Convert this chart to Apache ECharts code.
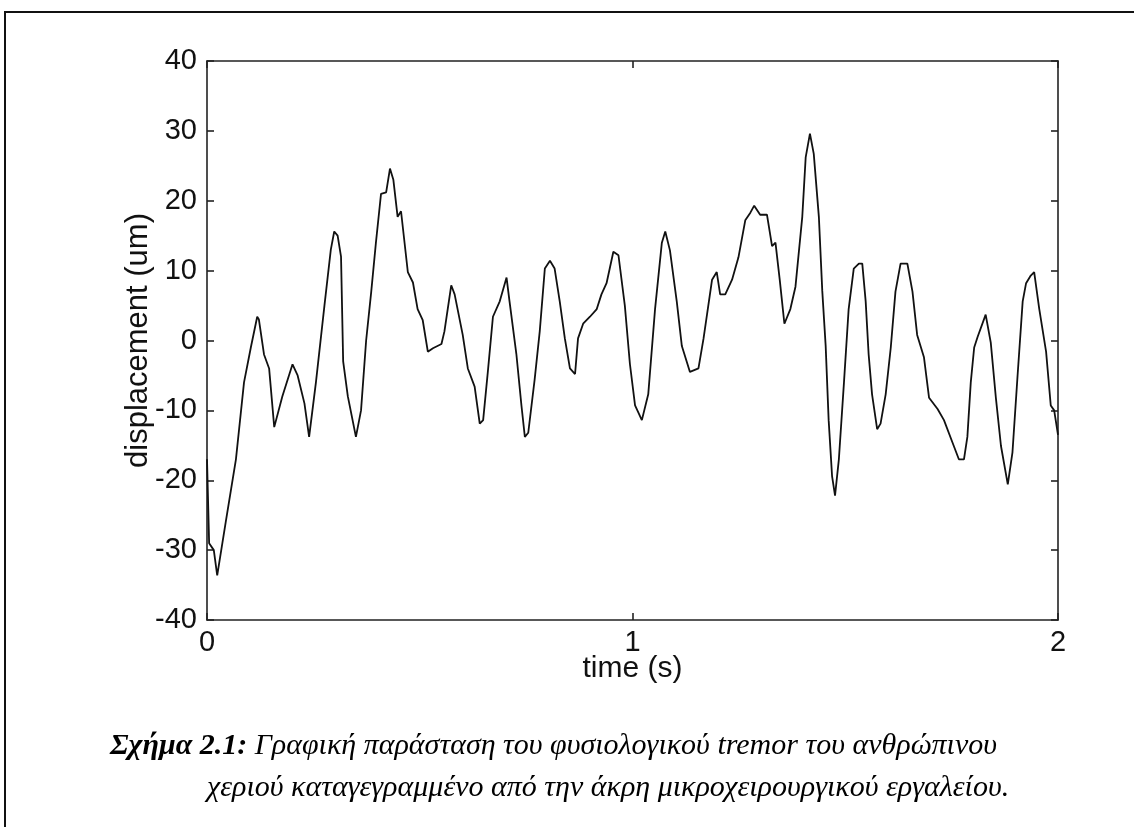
<!DOCTYPE html>
<html><head><meta charset="utf-8">
<script src="https://cdn.jsdelivr.net/npm/echarts@6/dist/echarts.min.js"></script>
<style>html,body{margin:0;padding:0;background:#fff}#c{width:1134px;height:827px}</style>
</head><body><div id="c"></div>
<script>
// time in seconds
const timeS = [0,0.005,0.016,0.024,0.044,0.068,0.087,0.103,0.118,0.122,0.134,0.146,0.158,0.177,0.201,0.213,0.229,0.240,0.256,0.276,0.291,0.299,0.307,0.315,0.320,0.331,0.350,0.362,0.374,0.386,0.397,0.409,0.421,0.430,0.438,0.448,0.456,0.472,0.484,0.495,0.507,0.519,0.531,0.551,0.558,0.574,0.582,0.601,0.613,0.629,0.641,0.649,0.660,0.672,0.688,0.704,0.711,0.727,0.739,0.747,0.755,0.770,0.782,0.794,0.806,0.817,0.829,0.841,0.853,0.865,0.872,0.884,0.900,0.916,0.927,0.939,0.955,0.967,0.982,0.994,1.006,1.022,1.037,1.053,1.069,1.077,1.088,1.104,1.116,1.135,1.155,1.167,1.187,1.198,1.206,1.218,1.234,1.249,1.265,1.277,1.286,1.300,1.316,1.328,1.336,1.346,1.357,1.371,1.383,1.399,1.407,1.417,1.426,1.438,1.446,1.454,1.461,1.469,1.476,1.485,1.497,1.508,1.520,1.532,1.540,1.548,1.555,1.563,1.575,1.583,1.595,1.607,1.618,1.630,1.646,1.658,1.669,1.685,1.697,1.717,1.732,1.752,1.767,1.779,1.787,1.795,1.803,1.811,1.830,1.842,1.854,1.866,1.882,1.893,1.905,1.917,1.925,1.936,1.944,1.956,1.972,1.983,1.991,2.0];
// displacement in micrometres
const displacementUm = [-17,-29,-30,-33.6,-26,-17,-6,-1,3.4,3,-2,-4,-12.4,-8,-3.4,-5,-9,-13.8,-6,5,13,15.6,15,12,-3,-8,-13.8,-10,0,7,14,21,21.2,24.6,23,17.7,18.5,9.8,8.3,4.5,2.9,-1.6,-1.1,-0.5,1.3,7.9,6.6,0.8,-4,-6.6,-11.9,-11.4,-4.5,3.4,5.6,9,5.6,-1.9,-9.3,-13.8,-13.2,-5.6,1.3,10.3,11.4,10.3,5.6,0.3,-4,-4.8,0.3,2.4,3.4,4.5,6.6,8.2,12.7,12.2,5,-3.4,-9.3,-11.4,-7.7,4.5,14,15.6,12.9,5.6,-0.8,-4.5,-4,0.3,8.7,9.8,6.6,6.6,8.7,11.9,17.2,18.3,19.3,18,18,13.5,14,8.7,2.4,4.5,7.7,17.7,26.2,29.6,26.7,17.7,7.1,-0.8,-11.4,-19.4,-22.2,-17,-6,4.5,10.3,11,11,5.6,-2,-7.7,-12.7,-11.9,-7.7,-1,7,11,11,7,0.8,-2.4,-8.2,-9.8,-11.4,-14.6,-17,-17,-13.8,-6,-1,0.5,3.7,-0.3,-8.2,-15.1,-20.6,-16,-5,5.6,8.2,9.3,9.8,4.5,-1.6,-9.3,-10,-13.5];
const xTicks = [0, 1, 2];
const yTicks = [-40, -30, -20, -10, 0, 10, 20, 30, 40];
const xName = 'time (s)';
const yName = 'displacement (um)';
const captionBold = 'Σχήμα 2.1:';
const captionLine1 = ' Γραφική παράσταση του φυσιολογικού tremor του ανθρώπινου';
const captionLine2 = 'χεριού καταγεγραμμένο από την άκρη μικροχειρουργικού εργαλείου.';

const points = timeS.map((t, i) => [t, displacementUm[i]]);
const axisFont = 'Liberation Sans, Arial, sans-serif';
const serif = '"Liberation Serif", "Times New Roman", serif';
const lineStyle = { color: '#222', width: 1.6 };
const xMin = xTicks[0], xMax = xTicks[xTicks.length - 1], xInt = xTicks[1] - xTicks[0];
const yMin = yTicks[0], yMax = yTicks[yTicks.length - 1], yInt = yTicks[1] - yTicks[0];
const axisLine = { show: true, onZero: false, lineStyle: lineStyle };
const axisTick = { show: true, inside: true, length: 7, lineStyle: lineStyle };

const chart = echarts.init(document.getElementById('c'), null, { renderer: 'canvas' });
chart.setOption({
  animation: false,
  backgroundColor: '#fff',
  grid: { left: 207, top: 61, right: 76, bottom: 207, containLabel: false },
  xAxis: [
    { type: 'value', min: xMin, max: xMax, interval: xInt, position: 'bottom',
      name: xName, nameLocation: 'middle', nameGap: 34, nameMoveOverlap: false,
      nameTextStyle: { fontFamily: axisFont, fontSize: 30, color: '#111' },
      axisLine: axisLine, axisTick: axisTick,
      axisLabel: { margin: 8, fontFamily: axisFont, fontSize: 29, color: '#111' },
      splitLine: { show: false } },
    { type: 'value', min: xMin, max: xMax, interval: xInt, position: 'top',
      axisLine: axisLine, axisTick: axisTick,
      axisLabel: { show: false }, splitLine: { show: false } }
  ],
  yAxis: [
    { type: 'value', min: yMin, max: yMax, interval: yInt, position: 'left',
      name: yName, nameLocation: 'middle', nameGap: 53, nameRotate: 90, nameMoveOverlap: false,
      nameTextStyle: { fontFamily: axisFont, fontSize: 31, color: '#111' },
      axisLine: axisLine, axisTick: axisTick,
      axisLabel: { margin: 10, fontFamily: axisFont, fontSize: 29, color: '#111' },
      splitLine: { show: false } },
    { type: 'value', min: yMin, max: yMax, interval: yInt, position: 'right',
      axisLine: axisLine, axisTick: axisTick,
      axisLabel: { show: false }, splitLine: { show: false } }
  ],
  series: [{
    type: 'line', xAxisIndex: 0, yAxisIndex: 0, data: points,
    showSymbol: false, symbol: 'none', smooth: false,
    lineStyle: { color: '#111', width: 1.8 }
  }],
  graphic: [
    { type: 'rect', shape: { x: 5, y: 12, width: 1140, height: 830 },
      style: { fill: 'none', stroke: '#111', lineWidth: 2 }, silent: true },
    { type: 'text', x: 110, y: 746,
      style: { text: '{b|' + captionBold + '}{i|' + captionLine1 + '}', verticalAlign: 'middle',
        rich: {
          b: { fontFamily: serif, fontSize: 30, fontWeight: 'bold', fontStyle: 'italic', fill: '#000' },
          i: { fontFamily: serif, fontSize: 30, fontStyle: 'italic', fill: '#000' }
        } } },
    { type: 'text', x: 207, y: 788,
      style: { text: captionLine2, verticalAlign: 'middle',
        font: 'italic 30px ' + serif, fill: '#000' } }
  ]
});
</script>
</body></html>
